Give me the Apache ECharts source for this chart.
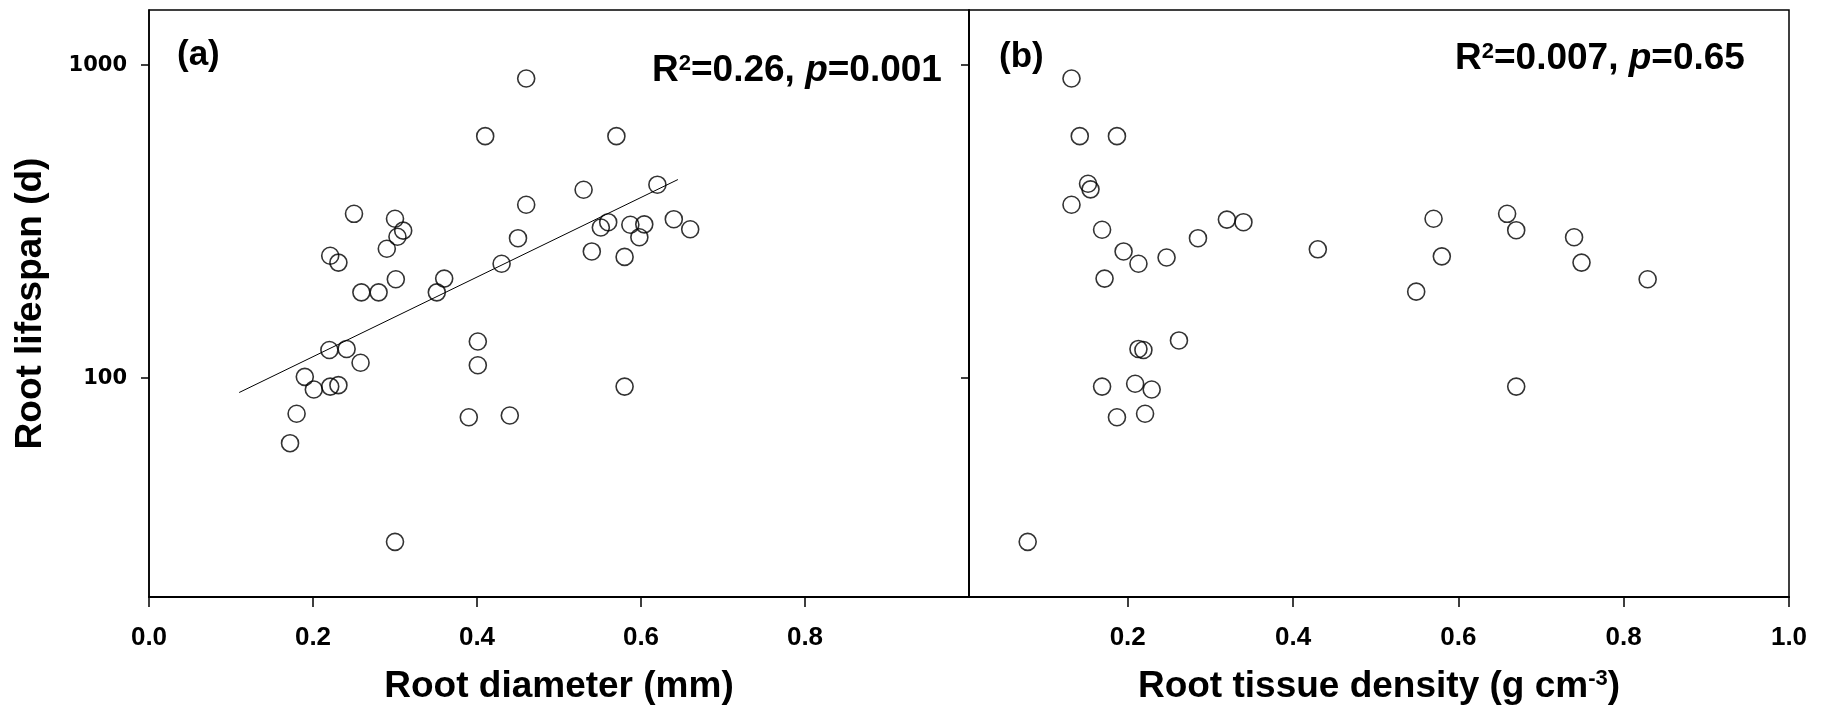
<!DOCTYPE html>
<html><head><meta charset="utf-8">
<script src="https://cdn.jsdelivr.net/npm/echarts@6.0.0/dist/echarts.min.js"></script>
<style>html,body{margin:0;padding:0;background:#fff}#c{width:1824px;height:713px}</style>
</head><body><div id="c"></div>
<script>
// ---- data ----
const diameter = [0.46,0.41,0.57,0.25,0.30,0.31,0.303,0.29,0.221,0.231,0.301,0.259,0.28,0.351,0.36,0.43,0.45,0.46,0.53,0.62,0.56,0.551,0.587,0.604,0.598,0.64,0.66,0.54,0.58,0.22,0.241,0.258,0.19,0.201,0.221,0.231,0.18,0.172,0.401,0.401,0.58,0.39,0.44,0.30];
const lifespanA = [906,593,593,335,323,296,283,259,246,234,207,188,188,188,208,232,280,358,400,415,315,303,309,310,282,322,299,254,244,123,124,112,101,92,94,95,77,62,131,110,94,75,76,30];
const density = [0.132,0.142,0.187,0.152,0.155,0.132,0.169,0.195,0.213,0.172,0.247,0.285,0.32,0.34,0.43,0.57,0.58,0.549,0.659,0.67,0.74,0.749,0.829,0.213,0.219,0.262,0.169,0.209,0.229,0.187,0.221,0.67,0.079];
const lifespanB = [906,593,593,418,401,358,298,254,232,208,243,280,321,315,258,323,245,189,335,297,282,234,207,124,123,132,94,96,92,75,77,94,30];
const fitX = [0.11, 0.645];
const fitY = [90, 431];
const xTicksA = [0, 0.2, 0.4, 0.6, 0.8];
const xTicksB = [0.2, 0.4, 0.6, 0.8, 1.0];
const yTicks = [100, 1000];
const panelLabels = ['(a)', '(b)'];
const statsA = ['0.26', '0.001'];
const statsB = ['0.007', '0.65'];
const xTitles = ['Root diameter (mm)', 'Root tissue density (g cm'];
const yTitle = 'Root lifespan (d)';

// ---- chart ----
const FONT = "'Liberation Sans', Arial, Helvetica, sans-serif";
const YFONT = "'DejaVu Sans', Verdana, sans-serif";
const chart = echarts.init(document.getElementById('c'), null, {renderer: 'canvas'});

function xAxisDef(gi, min, max, ticks, name) {
  return {
    type: 'value', gridIndex: gi, min: min, max: max,
    axisLine: {show: true, onZero: false, lineStyle: {color: '#000', width: 2}},
    axisTick: {show: true, inside: false, length: 10, customValues: ticks, lineStyle: {color: '#000', width: 1.5}},
    axisLabel: {customValues: ticks, margin: 28, color: '#000', fontFamily: FONT, fontWeight: 'bold', fontSize: 26,
      formatter: v => Number(v).toFixed(1)},
    splitLine: {show: false},
    name: name, nameLocation: 'middle', nameGap: 71,
    nameTextStyle: {color: '#000', fontFamily: FONT, fontWeight: 'bold', fontSize: 37,
      rich: {
        n: {color: '#000', fontFamily: FONT, fontWeight: 'bold', fontSize: 37},
        s: {color: '#000', fontFamily: FONT, fontWeight: 'bold', fontSize: 22, verticalAlign: 'top'}
      }}
  };
}
function yAxisDef(gi, labels) {
  return {
    type: 'log', logBase: 10, gridIndex: gi, min: 20, max: 1500,
    axisLine: {show: true, onZero: false, lineStyle: {color: '#000', width: 1.5}},
    axisTick: {show: true, inside: false, length: 8, customValues: yTicks, lineStyle: {color: '#000', width: 1.5}},
    axisLabel: {show: labels, customValues: yTicks, margin: 22, color: '#000', fontFamily: YFONT, fontWeight: 'bold', fontSize: 21,
      formatter: v => String(Math.round(v))},
    splitLine: {show: false},
    name: labels ? yTitle : '', nameLocation: 'middle', nameGap: 100,
    nameTextStyle: {color: '#000', fontFamily: FONT, fontWeight: 'bold', fontSize: 37}
  };
}
const circle = {color: 'rgba(0,0,0,0)', borderColor: '#000', borderWidth: 1.6};

function richStats(r2, p) {
  return '{n|R}{s|2}{n|=' + r2 + ', }{i|p}{n|=' + p + '}';
}
const richStyle = {
  n: {fill: '#000', fontFamily: FONT, fontWeight: 'bold', fontSize: 37},
  s: {fill: '#000', fontFamily: FONT, fontWeight: 'bold', fontSize: 22, verticalAlign: 'top'},
  i: {fill: '#000', fontFamily: FONT, fontWeight: 'bold', fontStyle: 'italic', fontSize: 37}
};

chart.setOption({
  animation: false,
  backgroundColor: '#fff',
  grid: [
    {left: 149, top: 10, width: 820, height: 587, show: true, borderColor: '#000', borderWidth: 1.5, containLabel: false},
    {left: 969, top: 10, width: 820, height: 587, show: true, borderColor: '#000', borderWidth: 1.5, containLabel: false}
  ],
  xAxis: [
    xAxisDef(0, 0, 1.0, xTicksA, '{n|' + xTitles[0] + '}'),
    xAxisDef(1, 0.008, 1.0, xTicksB, '{n|' + xTitles[1] + '}{s|-3}{n|)}')
  ],
  yAxis: [yAxisDef(0, true), yAxisDef(1, false)],
  series: [
    {type: 'scatter', xAxisIndex: 0, yAxisIndex: 0, symbol: 'circle', symbolSize: 17, itemStyle: circle,
      emphasis: {disabled: true}, data: diameter.map((x, i) => [x, lifespanA[i]])},
    {type: 'line', xAxisIndex: 0, yAxisIndex: 0, showSymbol: false, symbol: 'none',
      lineStyle: {color: '#000', width: 1}, emphasis: {disabled: true},
      data: fitX.map((x, i) => [x, fitY[i]])},
    {type: 'scatter', xAxisIndex: 1, yAxisIndex: 1, symbol: 'circle', symbolSize: 17, itemStyle: circle,
      emphasis: {disabled: true}, data: density.map((x, i) => [x, lifespanB[i]])}
  ],
  graphic: [
    {type: 'text', x: 177, y: 55, silent: true,
      style: {text: panelLabels[0], fill: '#000', font: 'bold 35px ' + FONT, align: 'left', verticalAlign: 'middle', textAlign: 'left', textVerticalAlign: 'middle'}},
    {type: 'text', x: 999, y: 57, silent: true,
      style: {text: panelLabels[1], fill: '#000', font: 'bold 35px ' + FONT, align: 'left', verticalAlign: 'middle', textAlign: 'left', textVerticalAlign: 'middle'}},
    {type: 'text', x: 652, y: 71, silent: true,
      style: {text: richStats(statsA[0], statsA[1]), rich: richStyle, fill: '#000', font: 'bold 37px ' + FONT, align: 'left', verticalAlign: 'middle', textAlign: 'left', textVerticalAlign: 'middle'}},
    {type: 'text', x: 1455, y: 59, silent: true,
      style: {text: richStats(statsB[0], statsB[1]), rich: richStyle, fill: '#000', font: 'bold 37px ' + FONT, align: 'left', verticalAlign: 'middle', textAlign: 'left', textVerticalAlign: 'middle'}}
  ]
});
</script>
</body></html>
